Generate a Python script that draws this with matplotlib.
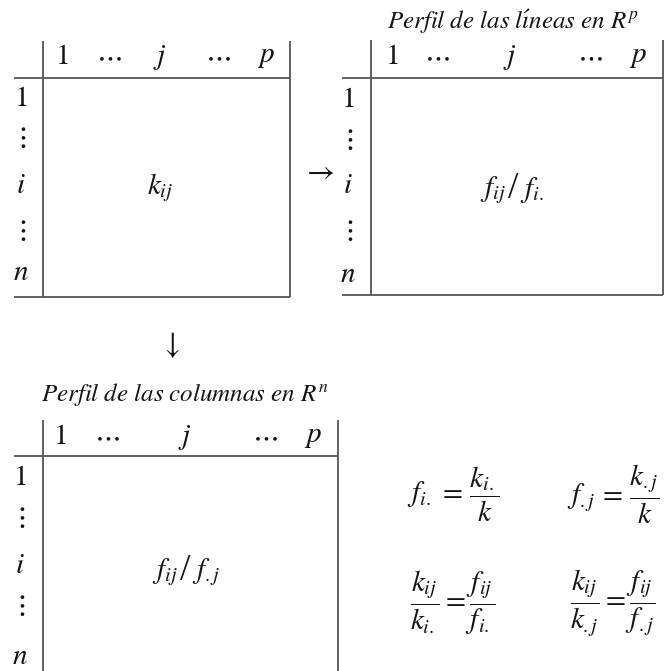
import matplotlib
matplotlib.use("Agg")
import matplotlib.pyplot as plt

plt.rcParams['mathtext.fontset'] = 'stix'
plt.rcParams['font.family'] = ['Liberation Serif', 'DejaVu Serif']

# ---- content ----
col_labels = [r'$\mathrm{1}$', r'$\cdots$', r'$j$', r'$\cdots$', r'$p$']
row_labels = [r'$\mathrm{1}$', r'$\vdots$', r'$i$', r'$\vdots$', r'$n$']
cell_left = [r'$k_{ij}$', r'$f_{ij}$', r'$f_{ij}$']
cell_right = ['', r'$f_{i.}$', r'$f_{.j}$']
titles = ['', r'$Perfil\ de\ las\ l\acute{\imath}neas\ en\ R^p$',
          r'$Perfil\ de\ las\ columnas\ en\ R^n$']
formulas = [r'$f_{i.}\, =\, \dfrac{k_{i.}}{k}$', r'$f_{.j}\, =\, \dfrac{k_{.j}}{k}$',
            r'$\dfrac{k_{ij}}{k_{i.}} = \dfrac{f_{ij}}{f_{i.}}$',
            r'$\dfrac{k_{ij}}{k_{.j}} = \dfrac{f_{ij}}{f_{.j}}$']

# ---- layout (pixels) ----
W, H = 668, 671
fig = plt.figure(figsize=(W / 100, H / 100), dpi=100)
ax = fig.add_axes([0, 0, 1, 1])
ax.set_xlim(0, W)
ax.set_ylim(H, 0)
ax.axis('off')

txt = '#141414'
lc = '#555555'
lw = 1.3
fs = 21

tables = [
    dict(left=14, vx=43, right=290, top=41, hy=78, bottom=297,
         cx=[62, 109, 160, 218, 266], hly=57,
         ry=[99, 138, 186, 231, 273], rx=21, cell=(160, 188), title=None),
    dict(left=342, vx=371, right=663, top=40, hy=78, bottom=295,
         cx=[392, 437, 510, 590, 638], hly=57,
         ry=[100, 140, 186, 231, 275], rx=348, cell=(513, 190), title=(513, 22)),
    dict(left=14, vx=43, right=338, top=420, hy=456, bottom=None,
         cx=[60, 107, 185, 265, 313], hly=437,
         ry=[478, 518, 566, 606, 657], rx=20, cell=(185, 572), title=(185, 394)),
]

for k, t in enumerate(tables):
    yb = t['bottom'] if t['bottom'] else H + 5
    ax.plot([t['vx'], t['vx']], [t['top'], yb], color=lc, lw=lw, solid_capstyle='butt')
    ax.plot([t['right'], t['right']], [t['top'], yb], color=lc, lw=lw, solid_capstyle='butt')
    ax.plot([t['left'], t['right']], [t['hy'], t['hy']], color=lc, lw=lw,
            solid_capstyle='butt')
    if t['bottom']:
        ax.plot([t['left'], t['right']], [t['bottom'], t['bottom']], color=lc, lw=lw,
                solid_capstyle='butt')
    for x, lab in zip(t['cx'], col_labels):
        ax.text(x, t['hly'], lab, ha='center', va='center', fontsize=fs, color=txt)
    for y, lab in zip(t['ry'], row_labels):
        ax.text(t['rx'], y, lab, ha='center', va='center', fontsize=fs, color=txt)
    cx, cy = t['cell']
    if cell_right[k]:
        ax.text(cx - 7, cy, cell_left[k], ha='right', va='center', fontsize=fs, color=txt)
        ax.text(cx, cy - 1, '/', ha='center', va='center', fontsize=27, color=txt,
                family='Liberation Serif')
        ax.text(cx + 7, cy, cell_right[k], ha='left', va='center', fontsize=fs, color=txt)
    else:
        ax.text(cx, cy, cell_left[k], ha='center', va='center', fontsize=fs, color=txt)
    if t['title']:
        ax.text(t['title'][0], t['title'][1], titles[k], ha='center', va='center',
                fontsize=18, color=txt)

# arrows
ax.text(318, 172, r'$\rightarrow$', ha='center', va='center', fontsize=22, color=txt)
ax.text(170, 345, r'$\downarrow$', ha='center', va='center', fontsize=22, color=txt)

# formulas
fpos = [(453, 494), (613, 494), (453, 603), (613, 603)]
for (x, y), f in zip(fpos, formulas):
    ax.text(x, y, f, ha='center', va='center', fontsize=fs, color=txt)

fig.savefig('out.png', dpi=100)
